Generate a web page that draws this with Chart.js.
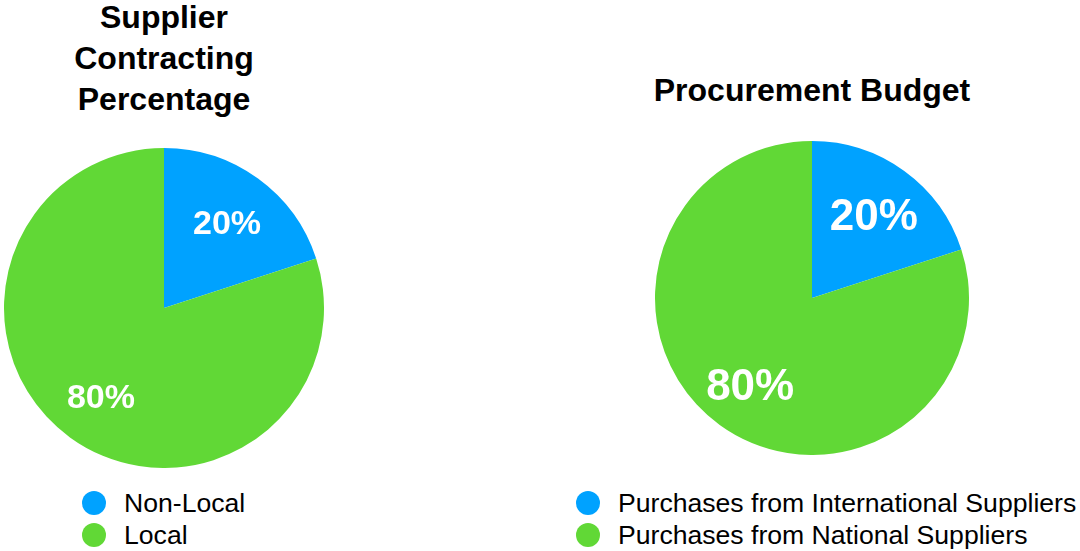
<!DOCTYPE html>
<html>
<head>
<meta charset="utf-8">
<script src="https://cdn.jsdelivr.net/npm/chart.js@4.4.1/dist/chart.umd.min.js"></script>
<style>
  body { margin: 0; width: 1080px; height: 551px; background: #fff; position: relative; overflow: hidden;
         font-family: "Liberation Sans", Arial, sans-serif; color: #000; }
  .title { position: absolute; font-weight: bold; font-size: 32px; line-height: 41px; text-align: center; }
  canvas { position: absolute; }
  .legend { position: absolute; font-size: 26.6px; }
  .legend .row { display: flex; align-items: center; height: 32px; white-space: nowrap; }
  .legend .dot { width: 24px; height: 24px; border-radius: 50%; margin-right: 18px; flex: none; }
</style>
</head>
<body>
<div class="title" id="titleLeft" style="left:0; top:-3px; width:328px;"></div>
<div class="title" id="titleRight" style="left:612px; top:70px; width:400px;"></div>
<canvas id="supplierPie" width="320" height="320" style="left:4px; top:148px;"></canvas>
<canvas id="budgetPie" width="314" height="314" style="left:655px; top:141px;"></canvas>
<div class="legend" id="legendLeft" style="left:82px; top:487px;"></div>
<div class="legend" id="legendRight" style="left:576px; top:487px;"></div>

<script>
const sliceColors = ["#00a2ff", "#61d836"]

const supplierTitle = ["Supplier", "Contracting", "Percentage"]
const supplierLabels = ["Non-Local", "Local"]
const supplierValues = [20, 80]

const budgetTitle = ["Procurement Budget"]
const budgetLabels = ["Purchases from International Suppliers", "Purchases from National Suppliers"]
const budgetValues = [20, 80]

// white percentage text inside each slice
const pctLabels = {
  id: "pctLabels",
  afterDatasetsDraw(chart, args, opts) {
    const ctx = chart.ctx
    const meta = chart.getDatasetMeta(0)
    const values = chart.data.datasets[0].data
    ctx.save()
    ctx.fillStyle = "#fff"
    ctx.font = `bold ${opts.size}px "Liberation Sans", Arial, sans-serif`
    ctx.textAlign = "center"
    ctx.textBaseline = "alphabetic"
    meta.data.forEach((arc, i) => {
      const p = arc.getProps(["x", "y", "startAngle", "endAngle", "outerRadius"], true)
      const mid = (p.startAngle + p.endAngle) / 2
      const r = p.outerRadius * opts.dist
      // drop by half the cap height so the digits sit centred on the point
      ctx.fillText(values[i] + "%", p.x + Math.cos(mid) * r, p.y + Math.sin(mid) * r + opts.size * 0.38)
    })
    ctx.restore()
  }
}

function pieChart(id, labels, values, labelSize) {
  return new Chart(document.getElementById(id), {
    type: "pie",
    data: {
      labels: labels,
      datasets: [{
        data: values,
        backgroundColor: sliceColors,
        borderWidth: 0,
        hoverOffset: 0
      }]
    },
    options: {
      responsive: false,
      animation: false,
      events: [],
      layout: { padding: 0 },
      plugins: {
        legend: { display: false },
        tooltip: { enabled: false },
        pctLabels: { size: labelSize, dist: 0.67 }
      }
    },
    plugins: [pctLabels]
  })
}

function fillTitle(id, lines) {
  document.getElementById(id).innerHTML = lines.join("<br>")
}

function fillLegend(id, labels) {
  document.getElementById(id).innerHTML = labels.map((l, i) =>
    `<div class="row"><span class="dot" style="background:${sliceColors[i]}"></span>${l}</div>`
  ).join("")
}

fillTitle("titleLeft", supplierTitle)
fillTitle("titleRight", budgetTitle)
pieChart("supplierPie", supplierLabels, supplierValues, 34)
pieChart("budgetPie", budgetLabels, budgetValues, 44)
fillLegend("legendLeft", supplierLabels)
fillLegend("legendRight", budgetLabels)
</script>
</body>
</html>
